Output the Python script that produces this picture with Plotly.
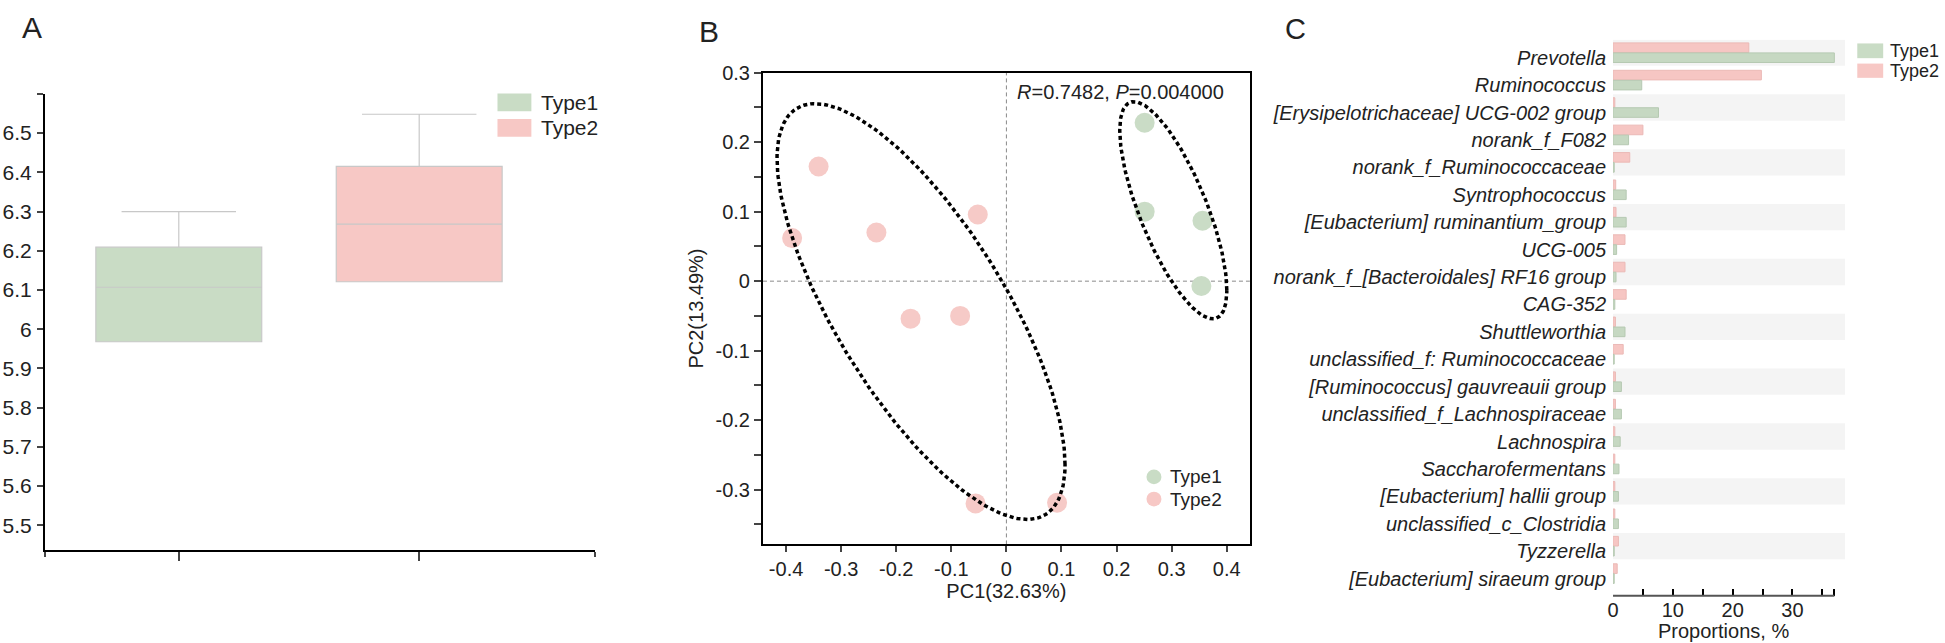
import numpy as np
import plotly.graph_objects as go

W, H = 1945, 643


def px(x):
    return x / W


def py(y):
    return 1 - y / H


groups = ["Type1", "Type2"]
green = "#c9dcc5"
pink = "#f7c8c5"
font_family = "Liberation Sans, Arial, Helvetica, sans-serif"
txt = "#222222"

# --- A: box statistics
box_q1 = [5.968, 6.121]
box_median = [6.107, 6.268]
box_q3 = [6.209, 6.415]
box_lower = [5.968, 6.121]
box_upper = [6.300, 6.548]
a_ticks = [5.5, 5.6, 5.7, 5.8, 5.9, 6.0, 6.1, 6.2, 6.3, 6.4, 6.5]

# --- B: PCoA scores
pc1_type1 = [0.251, 0.251, 0.356, 0.354]
pc2_type1 = [0.228, 0.100, 0.087, -0.007]
pc1_type2 = [-0.341, -0.389, -0.236, -0.052, -0.174, -0.084, -0.056, 0.092]
pc2_type2 = [0.165, 0.062, 0.070, 0.096, -0.054, -0.050, -0.320, -0.319]
b_xticks = [-0.4, -0.3, -0.2, -0.1, 0, 0.1, 0.2, 0.3, 0.4]
b_yticks = [-0.3, -0.2, -0.1, 0, 0.1, 0.2, 0.3]
stat_text = "<i>R</i>=0.7482, <i>P</i>=0.004000"

# --- C: genus proportions (%)
taxa = [
    "Prevotella", "Ruminococcus", "[Erysipelotrichaceae] UCG-002 group",
    "norank_f_F082", "norank_f_Ruminococcaceae", "Syntrophococcus",
    "[Eubacterium] ruminantium_group", "UCG-005",
    "norank_f_[Bacteroidales] RF16 group", "CAG-352", "Shuttleworthia",
    "unclassified_f: Ruminococcaceae", "[Ruminococcus] gauvreauii group",
    "unclassified_f_Lachnospiraceae", "Lachnospira", "Saccharofermentans",
    "[Eubacterium] hallii group", "unclassified_c_Clostridia", "Tyzzerella",
    "[Eubacterium] siraeum group",
]
prop_type1 = [37.0, 4.8, 7.6, 2.6, 0.2, 2.2, 2.2, 0.6, 0.5, 0.3,
              2.0, 0.2, 1.4, 1.4, 1.2, 1.0, 0.9, 0.9, 0.2, 0.2]
prop_type2 = [22.7, 24.8, 0.3, 5.0, 2.8, 0.45, 0.5, 2.0, 2.0, 2.2,
              0.4, 1.7, 0.4, 0.4, 0.3, 0.3, 0.3, 0.3, 0.9, 0.7]
c_ticks = [0, 5, 10, 15, 20, 25, 30, 35, 37]
c_ticktext = ["0", "", "10", "", "20", "", "30", "", ""]


def ellipse(x, y, level=0.73, n=240):
    # normal-theory ellipse from the sample covariance
    pts = np.column_stack([x, y])
    center = pts.mean(axis=0)
    cov = np.cov(pts, rowvar=False)
    radius = np.sqrt(-2 * np.log(1 - level))
    t = np.linspace(0, 2 * np.pi, n)
    circ = np.column_stack([np.cos(t), np.sin(t)])
    e = center + radius * circ @ np.linalg.cholesky(cov).T
    return e[:, 0], e[:, 1]


fig = go.Figure()

# A
box_colors = [green, pink]
for i, g in enumerate(groups):
    fig.add_trace(go.Box(
        x=[i], q1=[box_q1[i]], median=[box_median[i]], q3=[box_q3[i]],
        lowerfence=[box_lower[i]], upperfence=[box_upper[i]],
        width=0.69, whiskerwidth=0.69, fillcolor=box_colors[i],
        line=dict(color="#c8c8c8", width=1.2), name=g,
        xaxis="x", yaxis="y", hoverinfo="skip"))

# B
fig.add_trace(go.Scatter(x=pc1_type2, y=pc2_type2, mode="markers", name="Type2",
                         marker=dict(size=20, color="#f6cac7"), xaxis="x2", yaxis="y2"))
fig.add_trace(go.Scatter(x=pc1_type1, y=pc2_type1, mode="markers", name="Type1",
                         marker=dict(size=20, color="#cadcc6"), xaxis="x2", yaxis="y2"))
for xs, ys in [(pc1_type2, pc2_type2), (pc1_type1, pc2_type1)]:
    ex, ey = ellipse(xs, ys)
    fig.add_trace(go.Scatter(x=ex, y=ey, mode="lines", xaxis="x2", yaxis="y2",
                             line=dict(color="black", width=3.5, dash="4px,3px"),
                             hoverinfo="skip"))

# C  (Type2 first so it sits on top in each row)
fig.add_trace(go.Bar(y=taxa, x=prop_type2, orientation="h", name="Type2",
                     marker=dict(color="#f6c6c3", line=dict(color="#ebb9b6", width=1)),
                     xaxis="x3", yaxis="y3"))
fig.add_trace(go.Bar(y=taxa, x=prop_type1, orientation="h", name="Type1",
                     marker=dict(color="#c6d8c2", line=dict(color="#b6c9b2", width=1)),
                     xaxis="x3", yaxis="y3"))

shapes = []
# alternating row bands in C
for i in range(0, len(taxa), 2):
    shapes.append(dict(type="rect", xref="x3", yref="y3", x0=0, x1=38.8,
                       y0=i - 0.48, y1=i + 0.48, fillcolor="#f4f4f4",
                       line=dict(width=0), layer="below"))
# C x axis line
shapes.append(dict(type="line", xref="x3", yref="y3 domain", x0=0, x1=37, y0=0, y1=0,
                   line=dict(color="#555555", width=2)))
# B zero lines
shapes.append(dict(type="line", xref="x2", yref="y2 domain", x0=0, x1=0, y0=0, y1=1,
                   line=dict(color="#8a8a8a", width=1, dash="4px,3px"), layer="below"))
shapes.append(dict(type="line", xref="x2 domain", yref="y2", x0=0, x1=1, y0=0, y1=0,
                   line=dict(color="#8a8a8a", width=1, dash="4px,3px"), layer="below"))

annotations = []


def label(x, y, text, size, anchor="left", **kw):
    annotations.append(dict(x=px(x), y=py(y), xref="paper", yref="paper", text=text,
                            showarrow=False, xanchor=anchor, yanchor="middle",
                            font=dict(size=size, color=txt, family=font_family), **kw))


# panel letters
label(14, 17, "A", 30)
label(693, 21, "B", 30)
label(1281, 18, "C", 29)
label(1012, 82, stat_text, 20)
label(1723, 631, "Proportions, %", 20, anchor="center")

# legends (swatches drawn as shapes)
for (x0, x1, ys, size, tx, kind) in [
    (493, 527, [(84, 102), (110, 128)], 21, 535, "rect"),
    (1144, 1159, [(466.5, 481.5), (489, 504)], 19, 1166, "circle"),
    (1857, 1883, [(33, 48), (53.5, 68)], 18, 1888, "rect"),
]:
    for (y0, y1), g, c in zip(ys, groups, [green, pink]):
        shapes.append(dict(type=kind, xref="paper", yref="paper", x0=px(x0), x1=px(x1),
                           y0=py(y1), y1=py(y0), fillcolor=c, line=dict(width=0)))
        label(tx, (y0 + y1) / 2, g, size)

tick_font = dict(size=21, color=txt, family=font_family)
fig.update_layout(
    width=W, height=H, margin=dict(l=0, r=0, t=0, b=0),
    paper_bgcolor="white", plot_bgcolor="rgba(0,0,0,0)",
    showlegend=False, bargap=0.27, bargroupgap=0.04, barmode="group",
    font=dict(family=font_family, color=txt),
    shapes=shapes, annotations=annotations,
    xaxis=dict(domain=[px(39), px(591)], range=[-0.557, 1.732], anchor="y",
               tickvals=[0, 1], ticktext=["", ""], ticks="outside", ticklen=9, tickwidth=2,
               showline=True, linewidth=2, linecolor="black", showgrid=False, zeroline=False,
               minor=dict(tickvals=[-0.557, 1.732], ticks="outside", ticklen=5, tickwidth=2)),
    yaxis=dict(domain=[py(548), py(84.3)], range=[5.438, 6.6], anchor="x",
               tickvals=a_ticks, ticks="outside", ticklen=6, tickwidth=2, tickfont=tick_font,
               ticklabelstandoff=1,
               showline=True, linewidth=2, linecolor="black", showgrid=False, zeroline=False,
               minor=dict(tickvals=[6.6], ticks="outside", ticklen=6, tickwidth=2)),
    xaxis2=dict(domain=[px(759.3), px(1247.7)], range=[-0.442, 0.442], anchor="y2",
                tickvals=b_xticks, ticktext=[f"{v:g}" for v in b_xticks],
                ticks="outside", ticklen=6, tickwidth=1.5,
                tickfont=dict(size=20, color=txt, family=font_family),
                showline=True, mirror=True, linewidth=2, linecolor="black",
                showgrid=False, zeroline=False,
                title=dict(text="PC1(32.63%)", standoff=3,
                           font=dict(size=20, color=txt, family=font_family))),
    yaxis2=dict(domain=[py(542.7), py(62.7)], range=[-0.379, 0.3002], anchor="x2",
                tickvals=b_yticks, ticktext=[f"{v:g}" for v in b_yticks],
                ticks="outside", ticklen=7, tickwidth=1.5,
                tickfont=dict(size=20, color=txt, family=font_family),
                showline=True, mirror=True, linewidth=2, linecolor="black",
                showgrid=False, zeroline=False,
                minor=dict(dtick=0.05, tick0=0, ticks="outside", ticklen=7, tickwidth=1.5),
                title=dict(text="PC2(13.49%)", standoff=6,
                           font=dict(size=20, color=txt, family=font_family))),
    xaxis3=dict(domain=[px(1612), px(1844.8)], range=[0, 38.8], anchor="y3",
                tickvals=c_ticks, ticktext=c_ticktext, ticks="inside", ticklen=7,
                tickwidth=2, tickcolor="black", showline=False, showgrid=False, zeroline=False,
                tickfont=dict(size=20, color=txt, family=font_family)),
    yaxis3=dict(domain=[py(595), py(29.3)], type="category", range=[19.81, -0.47],
                anchor="x3", categoryorder="array", categoryarray=taxa,
                ticks="", showline=False, showgrid=False, zeroline=False,
                ticklabelstandoff=6, ticklabelshift=-5,
                tickfont=dict(size=20, color=txt, family=font_family, style="italic")),
)

# page body has an 8px default margin; drop it so the figure sits at (0, 0)
fig.write_html("out.html", config={"displayModeBar": False},
               post_script="document.body.style.margin='0';"
                           "document.body.style.overflow='hidden';")
